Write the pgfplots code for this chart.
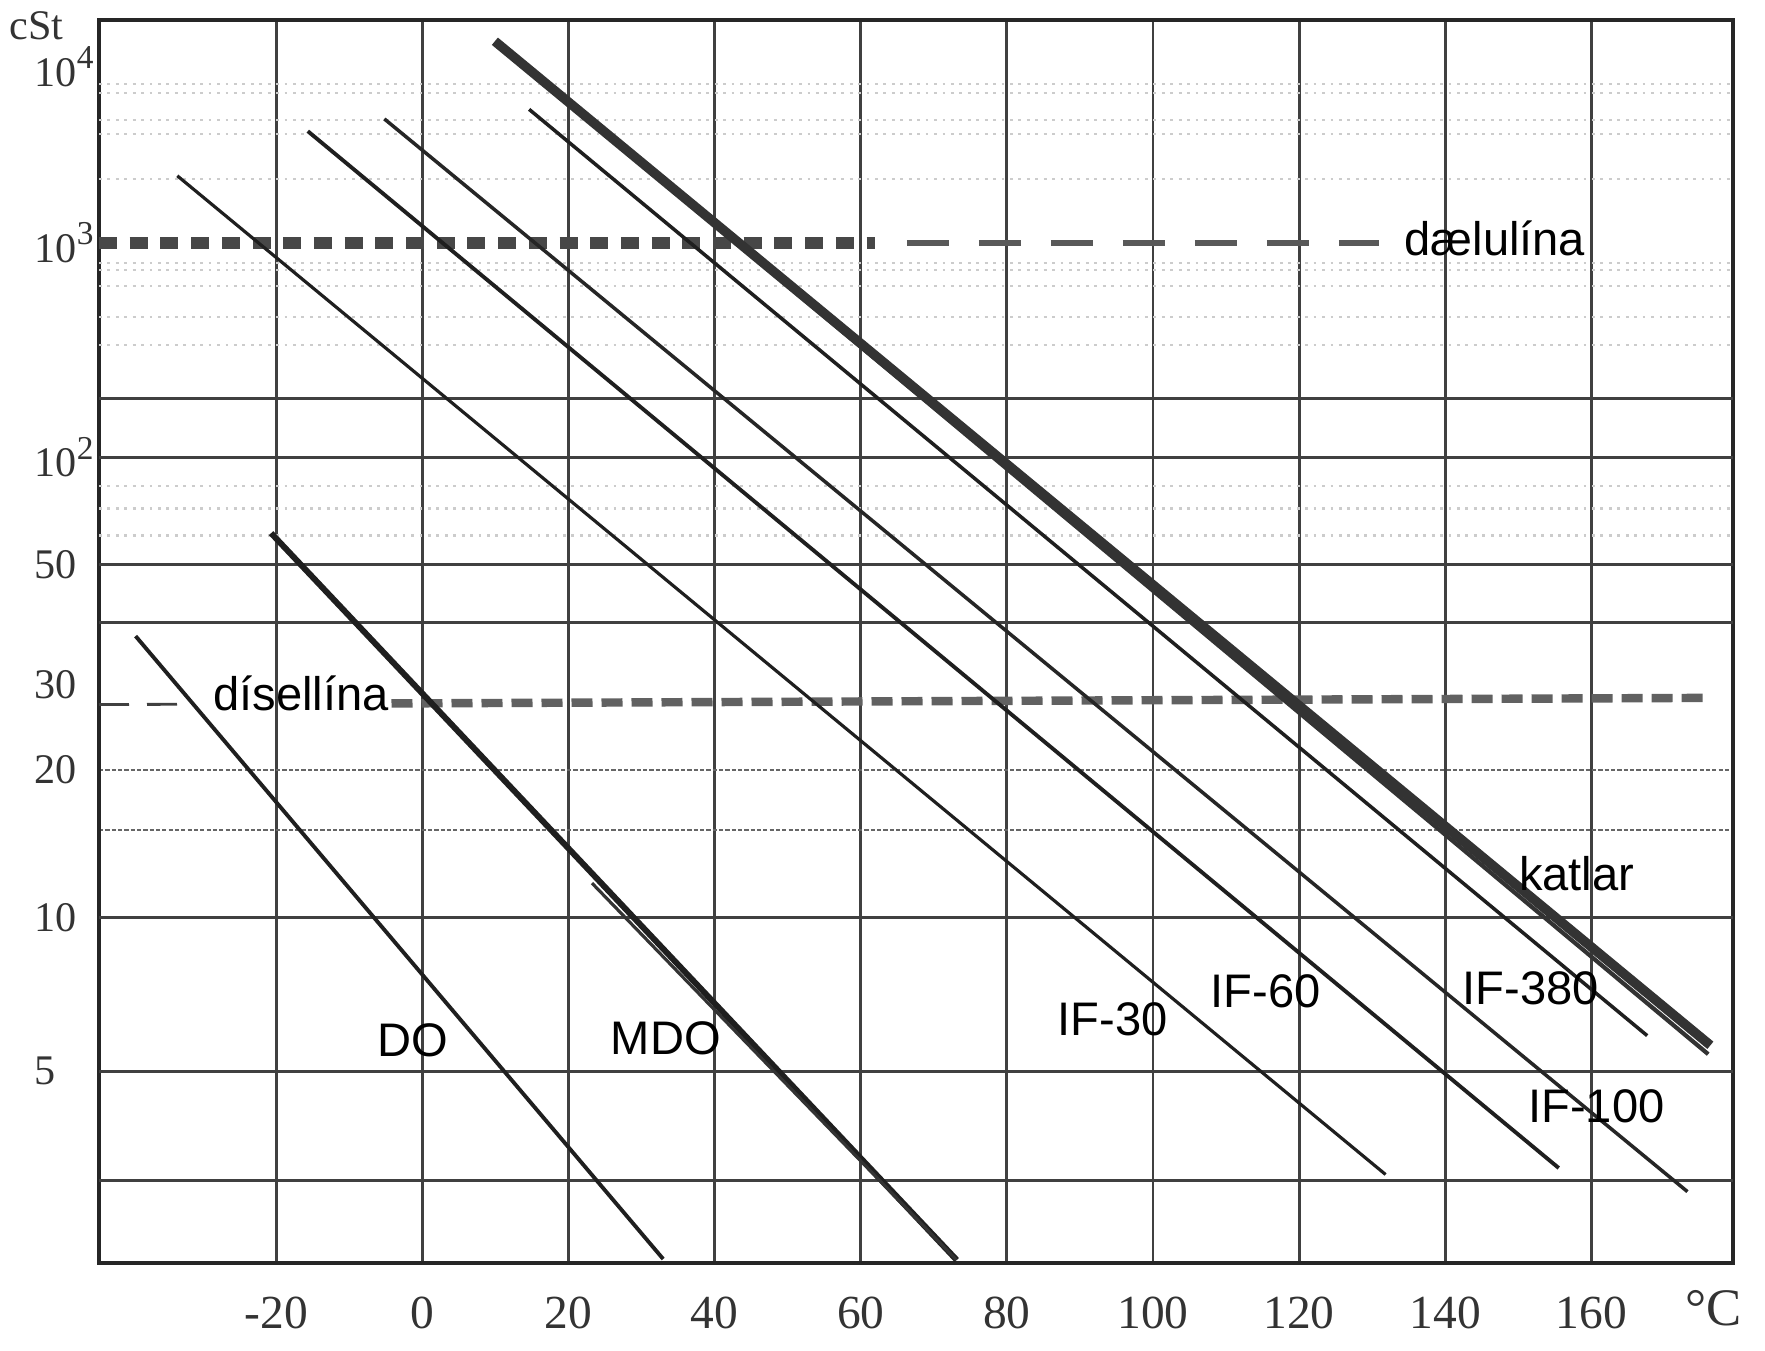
\documentclass[border=0pt]{standalone}
\usepackage{pgfplots}
\pgfplotsset{compat=1.18}
\usepackage{pgfplotstable}
\usepackage{fontspec}
\setmainfont{Liberation Sans}
\newfontfamily\tnr{Liberation Serif}
\newcommand\ex[1]{\raisebox{0.42em}{\fontsize{9.5}{10}\selectfont #1}}
\newcommand\lab{\fontsize{13.4}{15}\selectfont}

% temperature T (deg C), kinematic viscosity v (cSt)
\pgfplotstableread{
T v
-39.27 37.6
32.95 2.04
}\DO
\pgfplotstableread{
T v
-20.72 61.2
73.13 2.03
}\MDO
\pgfplotstableread{
T v
23.2 11.73
73.1 2.03
}\MDOb
\pgfplotstableread{
T v
-33.56 2407
131.84 3.085
}\IFthirty
\pgfplotstableread{
T v
-15.70 4316
155.54 3.18
}\IFsixty
\pgfplotstableread{
T v
-5.22 5067
173.16 2.84
}\IFhundred
\pgfplotstableread{
T v
14.60 5742
167.65 5.87
}\IFthreeeighty
\pgfplotstableread{
T v
9.91 13990
176.30 5.62
}\katlar
\pgfplotstableread{
T v
10.8 13000
176.0 5.40
}\katlarb
% pump line (1000 cSt) and diesel line
\pgfplotstableread{
T v
-44.28 1000
62.0 1000
}\daelA
\pgfplotstableread{
T v
66.3 1000
131.0 1000
}\daelB
\pgfplotstableread{
T v
-44.28 27.33
-33.6 27.37
}\disA
\pgfplotstableread{
T v
-4.24 27.48
176.3 28.22
}\disB

\begin{document}
\begin{tikzpicture}
\path[use as bounding box] (-9.9mm,-8.7mm) rectangle (166.6mm,126.3mm);
\begin{axis}[
  at={(0,0)}, anchor=south west,
  scale only axis, width=163.4mm, height=124.3mm,
  xmin=-44.28, xmax=179.4,
  ymin=17.8, ymax=1122.8, y dir=reverse,
  clip=false,
  axis line style={black!85, line width=1.2pt},
  xtick={-20,0,20,40,60,80,100,120,140,160},
  xticklabels={-20,0,20,40,60,80,100,120,140,160},
  xticklabel style={font=\tnr\fontsize{13.5}{15}\selectfont, anchor=center, yshift=-5mm, text=black!80},
  ytick={59.5,216,406.5,501.7,609,684.5,815.5,952.3},
  yticklabels={10\ex{4},10\ex{3},10\ex{2},50,30,20,10,5},
  yticklabel style={font=\tnr\fontsize{12}{13}\selectfont, anchor=west, inner sep=0pt, xshift=-6.5mm, text=black!80},
  major tick length=0pt, minor tick length=0pt,
  xmajorgrids,
  major grid style={black!75, line width=0.8pt},
  extra y ticks={354.2,406.5,501.7,553.5,815.5,952.3,1049.4},
  extra y tick labels={},
  extra y tick style={grid=major},
  minor ytick={684.5,738.1}, yminorgrids,
  minor grid style={black!60, line width=0.6pt, dash pattern=on 1.2pt off 0.6pt},
  declare function={
    cpos(\vv)=(\vv<0.47712)?(1122.8-416.8*(\vv-0.30103)):
     ((\vv<0.69897)?(1049.4-437.7*(\vv-0.47712)):
     ((\vv<1)?(952.3-454.4*(\vv-0.69897)):
     ((\vv<1.17609)?(815.5-439.5*(\vv-1)):
     ((\vv<1.30103)?(738.1-429.0*(\vv-1.17609)):
     ((\vv<1.47712)?(684.5-428.8*(\vv-1.30103)):
     ((\vv<1.60206)?(609-444.2*(\vv-1.47712)):
     ((\vv<1.69897)?(553.5-534.5*(\vv-1.60206)):
     ((\vv<2)?(501.7-316.2*(\vv-1.69897)):
     ((\vv<2.30103)?(406.5-173.7*(\vv-2)):
     ((\vv<3)?(354.2-197.7*(\vv-2.30103)):
     (216-156.5*(\vv-3))))))))))));
  },
  every axis plot/.append style={line cap=butt},
]
% faint minor rules of the scanned chart
\pgfplotsinvokeforeach{75,83,107,119,159,234,240,254,282,307,432,452,476}{
  \draw[black!20, line width=0.6pt, dash pattern=on 0.8pt off 1.6pt] (axis cs:-44.28,#1) -- (axis cs:179.4,#1);
}

% dælulína (1000 cSt)
\addplot[black!72, line width=3.4pt, dash pattern=on 1.8mm off 1.27mm] table[x=T, y expr={cpos(ln(\thisrow{v})/2.302585)}] \daelA;
\addplot[black!65, line width=1.7pt, dash pattern=on 4.2mm off 3mm] table[x=T, y expr={cpos(ln(\thisrow{v})/2.302585)}] \daelB;
% dísellína
\addplot[black!75, line width=0.8pt, dash pattern=on 3mm off 1.8mm] table[x=T, y expr={cpos(ln(\thisrow{v})/2.302585)}] \disA;
\addplot[black!62, line width=2.4pt, dash pattern=on 2.1mm off 0.9mm] table[x=T, y expr={cpos(ln(\thisrow{v})/2.302585)}] \disB;

% fuel lines
\addplot[black!88, line width=1.1pt] table[x=T, y expr={cpos(ln(\thisrow{v})/2.302585)}] \DO;
\addplot[black!88, line width=1.7pt] table[x=T, y expr={cpos(ln(\thisrow{v})/2.302585)}] \MDO;
\addplot[black!80, line width=0.9pt] table[x=T, y expr={cpos(ln(\thisrow{v})/2.302585)}] \MDOb;
\addplot[black!88, line width=0.9pt] table[x=T, y expr={cpos(ln(\thisrow{v})/2.302585)}] \IFthirty;
\addplot[black!88, line width=1.1pt] table[x=T, y expr={cpos(ln(\thisrow{v})/2.302585)}] \IFsixty;
\addplot[black!85, line width=1.0pt] table[x=T, y expr={cpos(ln(\thisrow{v})/2.302585)}] \IFhundred;
\addplot[black!88, line width=1.0pt] table[x=T, y expr={cpos(ln(\thisrow{v})/2.302585)}] \IFthreeeighty;
\addplot[black!80, line width=2.7pt] table[x=T, y expr={cpos(ln(\thisrow{v})/2.302585)}] \katlar;
\addplot[black!80, line width=1.2pt] table[x=T, y expr={cpos(ln(\thisrow{v})/2.302585)}] \katlarb;

% labels
\node[font=\lab, anchor=base] at (axis cs:-16.6,632) {dísellína};
\node[font=\lab, anchor=base] at (axis cs:146.8,226.8) {dælulína};
\node[font=\lab, anchor=base] at (axis cs:158.0,791.8) {katlar};
\node[font=\lab, anchor=base] at (axis cs:151.7,892.6) {IF-380};
\node[font=\lab, anchor=base] at (axis cs:160.7,998.1) {IF-100};
\node[font=\lab, anchor=base] at (axis cs:115.4,895.7) {IF-60};
\node[font=\lab, anchor=base] at (axis cs:94.5,920.9) {IF-30};
\node[font=\lab, anchor=base] at (axis cs:-1.36,939.5) {DO};
\node[font=\lab, anchor=base] at (axis cs:33.3,937.5) {MDO};
\node[font=\tnr\fontsize{12}{13}\selectfont, text=black!80, anchor=west, inner sep=0pt] at (axis cs:-56.6,23) {cSt};
\node[font=\tnr\fontsize{15}{16}\selectfont, text=black!80, anchor=center] at (axis cs:176.7,1163) {°C};
\end{axis}
\end{tikzpicture}
\end{document}
